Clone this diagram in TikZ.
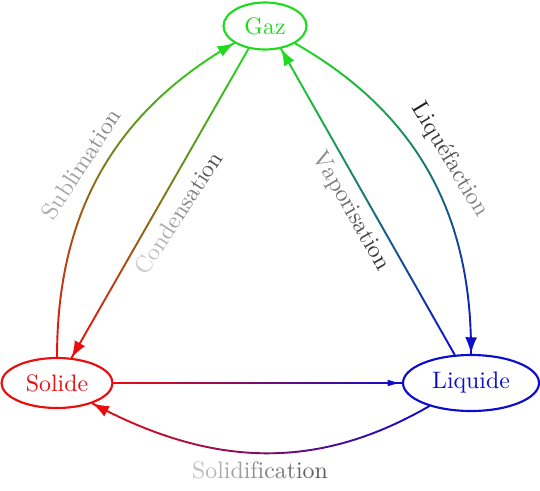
\documentclass[tikz,border=0pt]{standalone}
\usetikzlibrary{shapes.geometric,arrows.meta,calc}
\newcommand\pxu{0.42pt}
\definecolor{cG}{rgb}{0.12,0.86,0.12}
\definecolor{cR}{rgb}{0.92,0.05,0.05}
\definecolor{cB}{rgb}{0.05,0.05,0.80}

\ExplSyntaxOn
\NewDocumentCommand\gradword{mmm}
 {
  \int_set:Nn \l_tmpa_int { \tl_count:n {#3} }
  \int_zero:N \l_tmpb_int
  \tl_map_inline:nn {#3}
   {
    \use:x { \exp_not:N \textcolor [gray] { \fp_eval:n { #1 + (#2 - #1) * \l_tmpb_int / max(\l_tmpa_int - 1, 1) } } } {##1}
    \int_incr:N \l_tmpb_int
   }
 }
\ExplSyntaxOff

% gradient cubic: p0 p1 p2 p3 startcolour endcolour
\newcommand\gradcurve[6]{%
  \foreach \gi in {0,...,39}{%
    \pgfmathsetmacro\gta{\gi/40}%
    \pgfmathsetmacro\gtb{(\gi+1)/40}%
    \pgfmathsetmacro\gpc{100*(\gi+0.5)/40}%
    \colorlet{segc}{#6!\gpc!#5}%
    \coordinate (ga) at ($(#1)!\gta!(#2)$);
    \coordinate (gb) at ($(#2)!\gta!(#3)$);
    \coordinate (gc) at ($(#3)!\gta!(#4)$);
    \coordinate (gd) at ($(ga)!\gta!(gb)$);
    \coordinate (ge) at ($(gb)!\gta!(gc)$);
    \coordinate (gA) at ($(gd)!\gta!(ge)$);
    \coordinate (ha) at ($(#1)!\gtb!(#2)$);
    \coordinate (hb) at ($(#2)!\gtb!(#3)$);
    \coordinate (hc) at ($(#3)!\gtb!(#4)$);
    \coordinate (hd) at ($(ha)!\gtb!(hb)$);
    \coordinate (he) at ($(hb)!\gtb!(hc)$);
    \coordinate (gB) at ($(hd)!\gtb!(he)$);
    \draw[conn, segc, line cap=round] (gA) -- (gB);
  }%
}
% gradient straight line: a b startcolour endcolour
\newcommand\gradline[4]{%
  \foreach \gi in {0,...,39}{%
    \pgfmathsetmacro\gta{\gi/40}%
    \pgfmathsetmacro\gtb{(\gi+1)/40}%
    \pgfmathsetmacro\gpc{100*(\gi+0.5)/40}%
    \colorlet{segc}{#4!\gpc!#3}%
    \draw[conn, segc, line cap=round] ($(#1)!\gta!(#2)$) -- ($(#1)!\gtb!(#2)$);
  }%
}

\begin{document}
\begin{tikzpicture}[x=\pxu,y=-\pxu,
  state/.style={ellipse, draw, line width=0.9pt, inner sep=0pt},
  conn/.style={line width=0.8pt},
  tip/.style={tips=true, -{Latex[length=7pt,width=5pt]}},
  smalltip/.style={tips=true, -{Latex[length=6pt,width=2.8pt]}},
  lab/.style={inner sep=0pt}]
\useasboundingbox (0,0) rectangle (540,490);

\node[state, draw=cG, text=cG, minimum width=83*\pxu, minimum height=47*\pxu] (gaz) at (265,26) {Gaz};
\node[state, draw=cR, text=cR, minimum width=111*\pxu, minimum height=50*\pxu] (solide) at (57,383) {Solide};
\node[state, draw=cB, text=cB, minimum width=136*\pxu, minimum height=56*\pxu] (liquide) at (471,383) {Liquide};

% control points
\coordinate (sub1) at (57,217);
\coordinate (sub2) at (111,114);
\coordinate (liq1) at (419,114);
\coordinate (liq2) at (472,217);
\coordinate (sol1) at (319,470);
\coordinate (sol2) at (214,469);

% Sublimation: Solide -> Gaz
\gradcurve{solide.90}{sub1}{sub2}{gaz.209}{cR}{cG}
\path[conn, color=cG, tip] (solide.90) .. controls (sub1) and (sub2) .. (gaz.209);
% Liquefaction: Gaz -> Liquide
\gradcurve{gaz.330}{liq1}{liq2}{liquide.90}{cG}{cB}
\path[conn, color=cB, tip] (gaz.330) .. controls (liq1) and (liq2) .. (liquide.90);
% Solidification: Liquide -> Solide
\gradcurve{liquide.209}{sol1}{sol2}{solide.-30}{cB}{cR}
\path[conn, color=cR, tip] (liquide.209) .. controls (sol1) and (sol2) .. (solide.-30);
% Condensation: Gaz -> Solide
\gradline{gaz.234}{solide.60}{cG}{cR}
\path[conn, color=cR, tip] (gaz.234) -- (solide.60);
% Vaporisation: Liquide -> Gaz
\gradline{liquide.120}{gaz.305}{cB}{cG}
\path[conn, color=cG, tip] (liquide.120) -- (gaz.305);
% Solide -> Liquide
\gradline{solide.east}{liquide.west}{cR}{cB}
\path[conn, color=cB, smalltip] (solide.east) -- (liquide.west);

% labels
\node[lab, rotate=57] (lsub) at (81,164) {\gradword{0.68}{0.52}{Sublimation}};
\node[lab, rotate=57] (lcon) at (178,213) {\gradword{0.80}{0.30}{Condensation}};
\node[lab, rotate=-60] (lvap) at (351,211) {\gradword{0.55}{0.18}{Vaporisation}};
\node[lab, rotate=-59] (lliq) at (450,160) {\gradword{0.12}{0.55}{Liquéfaction}};
\node[lab] (lsol) at (260,470) {\gradword{0.75}{0.35}{Solidification}};
\end{tikzpicture}
\end{document}
